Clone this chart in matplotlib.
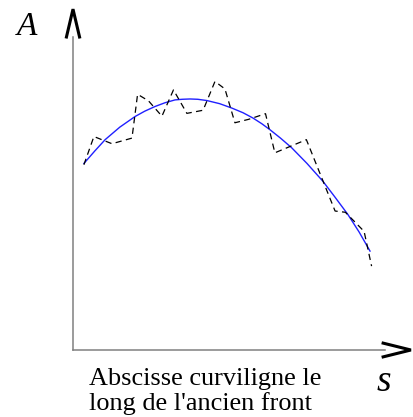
import numpy as np
import matplotlib
matplotlib.use("Agg")
import matplotlib.pyplot as plt

# dashed (measured) curve
s_meas = [0.35, 0.67, 1.25, 1.89, 2.07, 2.42, 2.85, 3.22, 3.65, 4.17, 4.55,
          4.87, 5.19, 5.63, 6.17, 6.47, 7.48, 8.40, 8.73, 9.33, 9.57]
a_meas = [5.92, 6.82, 6.59, 6.77, 8.17, 7.96, 7.47, 8.31, 7.56, 7.66, 8.58,
          8.34, 7.26, 7.37, 7.55, 6.30, 6.72, 4.44, 4.40, 3.79, 2.68]

# smooth (blue) curve
s_fit = [0.35, 0.70, 1.03, 1.50, 1.99, 2.30, 2.63, 2.95, 3.27, 3.50, 3.75,
         4.00, 4.29, 4.70, 5.09, 5.45, 5.77, 6.05, 6.31, 6.65, 7.01, 7.50,
         8.01, 8.40, 8.81, 9.17, 9.52]
a_fit = [5.96, 6.36, 6.72, 7.12, 7.46, 7.63, 7.78, 7.90, 7.99, 8.01, 8.02,
         8.01, 7.97, 7.87, 7.73, 7.58, 7.41, 7.23, 7.04, 6.77, 6.46, 5.96,
         5.39, 4.88, 4.33, 3.77, 3.16]

plt.rcParams['font.family'] = ['Liberation Serif', 'DejaVu Serif']

fig = plt.figure(figsize=(4.14, 4.17), dpi=100)
ax = fig.add_axes([73 / 414, (417 - 350) / 417, 312 / 414, 313 / 417])
ax.set_xlim(0, 10)
ax.set_ylim(0, 10)

ax.plot(s_fit, a_fit, color='#2020ff', lw=1.0)
ax.plot(s_meas, a_meas, color='black', lw=0.9, dashes=(5, 3.5))

for side in ['top', 'right']:
    ax.spines[side].set_visible(False)
for side in ['left', 'bottom']:
    ax.spines[side].set_color('#808080')
    ax.spines[side].set_linewidth(1.1)
ax.set_xticks([])
ax.set_yticks([])

# arrow heads
ax.plot([-0.021, 0, 0.021], [1.0, 1.089, 1.0], color='black', lw=2.2,
        transform=ax.transAxes, clip_on=False, solid_joinstyle='miter')
ax.plot([0.994, 1.083, 0.994], [0.022, 0.0, -0.022], color='black', lw=2.2,
        transform=ax.transAxes, clip_on=False, solid_joinstyle='miter')

fig.text(27 / 414, 1 - 35 / 417, 'A', fontsize=24, style='italic',
         ha='center', va='baseline')
fig.text(384 / 414, 1 - 391 / 417, 's', fontsize=27, style='italic',
         ha='center', va='baseline')
fig.text(89 / 414, 1 - 385 / 417, 'Abscisse curviligne le', fontsize=18.9,
         ha='left', va='baseline')
fig.text(89 / 414, 1 - 410 / 417, "long de l'ancien front", fontsize=18.9,
         ha='left', va='baseline')

fig.savefig('out.png', dpi=100)
